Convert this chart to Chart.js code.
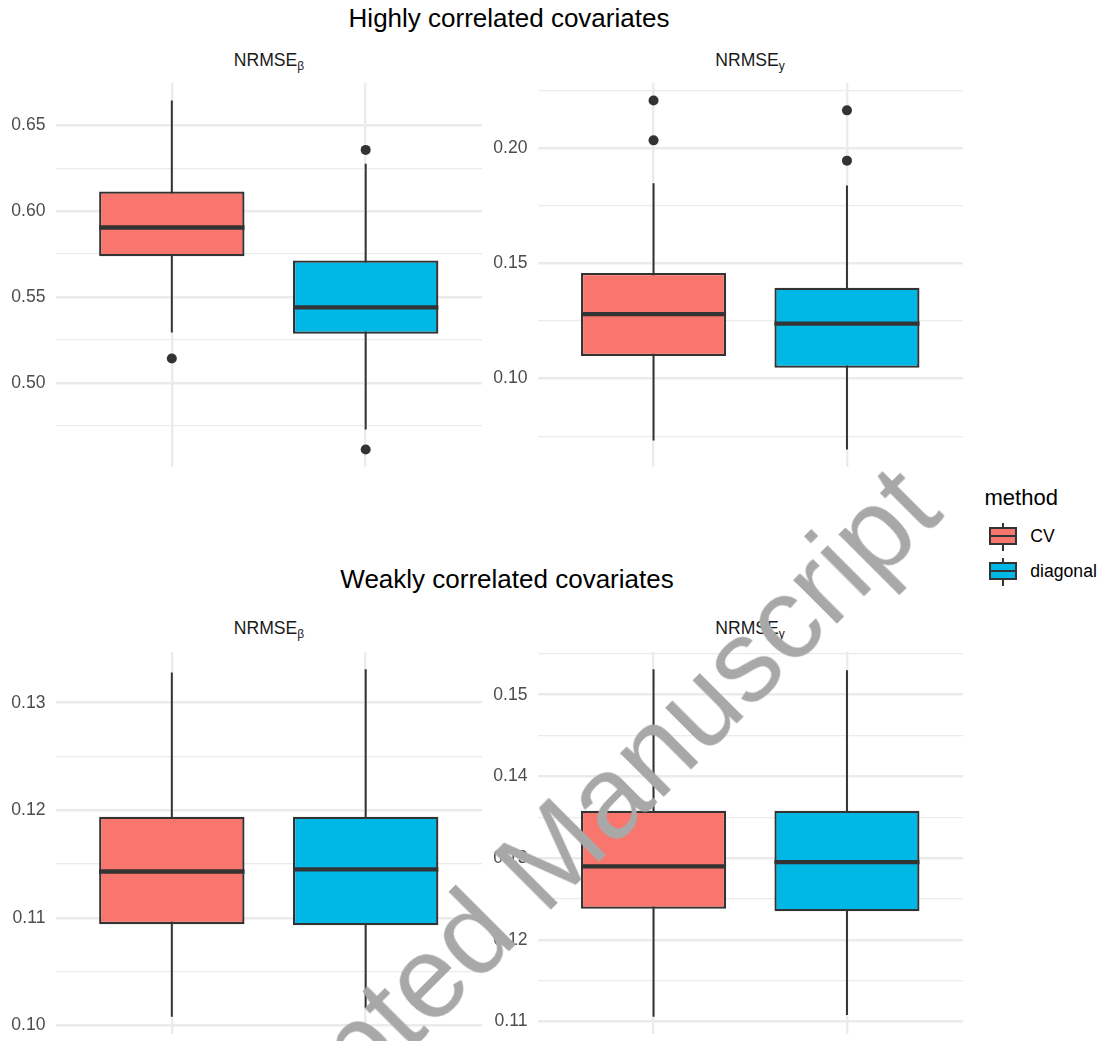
<!DOCTYPE html>
<html>
<head>
<meta charset="utf-8">
<title>NRMSE by method</title>
<script src="https://cdn.jsdelivr.net/npm/chart.js@4.4.1/dist/chart.umd.min.js"></script>
<style>
  body { margin: 0; background: #fff; font-family: "Liberation Sans", Arial, sans-serif; }
  #page { position: relative; width: 1107px; height: 1041px; overflow: hidden; background: #fff; }
  .panel { position: absolute; }
  .txt { position: absolute; white-space: nowrap; line-height: 1; }
  .title { font-size: 26px; color: #000; transform: translateX(-50%); }
  .strip { font-size: 17.6px; color: #1a1a1a; transform: translateX(-50%); }
  .strip span { font-size: 12px; position: relative; top: 4px; }
  .legtitle { font-size: 22px; color: #000; }
  .legtext { font-size: 17.6px; color: #000; }
  .key { position: absolute; width: 35px; height: 35px; }
  .key .whisk { position: absolute; left: 16.5px; top: 4px; width: 2px; height: 28px; background: #333; }
  .key .box { position: absolute; left: 3.5px; top: 8.5px; width: 28px; height: 18px; border: 2px solid #333; box-sizing: border-box; }
  .key .med { position: absolute; left: 3.5px; top: 16.5px; width: 28px; height: 2px; background: #333; }
  #stamp { position: absolute; font-size: 116px; color: #a8a8a8; white-space: nowrap; line-height: 1;
           transform: translate(-50%, -50%) rotate(-45deg); pointer-events: none; z-index: 10; }
</style>
</head>
<body>
<div id="page">
  <div class="txt title" style="left:509px; top:4.7px">Highly correlated covariates</div>
  <div class="txt title" style="left:507px; top:566.3px">Weakly correlated covariates</div>

  <div class="txt strip" style="left:269px; top:51.8px">NRMSE<span>β</span></div>
  <div class="txt strip" style="left:750px; top:51.8px">NRMSE<span>y</span></div>
  <div class="txt strip" style="left:269px; top:620.1px">NRMSE<span>β</span></div>
  <div class="txt strip" style="left:750px; top:620.1px">NRMSE<span>y</span></div>

  <canvas class="panel" id="hiBeta"></canvas>
  <canvas class="panel" id="hiY"></canvas>
  <canvas class="panel" id="loBeta"></canvas>
  <canvas class="panel" id="loY"></canvas>

  <div class="txt legtitle" style="left:984.5px; top:487.4px">method</div>
  <div id="legend"></div>

  <div id="stamp" style="left:534px; top:870px">Accepted Manuscript</div>
</div>

<script>
// box stats per method: [lower whisker, q1, median, q3, upper whisker]
const methods = ['CV', 'diagonal'];
const fills = ['#F8766D', '#00B8E5'];

// highly correlated covariates
const hiBetaCV = [0.5293, 0.5737, 0.5904, 0.6114, 0.6644];
const hiBetaDiag = [0.4728, 0.5285, 0.5439, 0.5712, 0.6276];
const hiBetaOut = [[0.5141], [0.6356, 0.4611]];
const hiBetaTicks = ['0.50', '0.55', '0.60', '0.65'];

const hiYCV = [0.0731, 0.1098, 0.1279, 0.1458, 0.1847];
const hiYDiag = [0.0692, 0.1047, 0.1238, 0.1394, 0.1837];
const hiYOut = [[0.2206, 0.2033], [0.2163, 0.1945]];
const hiYTicks = ['0.10', '0.15', '0.20'];

// weakly correlated covariates
const loBetaCV = [0.1008, 0.1094, 0.1143, 0.1194, 0.1328];
const loBetaDiag = [0.1016, 0.1093, 0.1145, 0.1194, 0.1331];
const loBetaOut = [[], []];
const loBetaTicks = ['0.10', '0.11', '0.12', '0.13'];

const loYCV = [0.1106, 0.1238, 0.1290, 0.1358, 0.1531];
const loYDiag = [0.1108, 0.1235, 0.1295, 0.1358, 0.1530];
const loYOut = [[], []];
const loYTicks = ['0.11', '0.12', '0.13', '0.14', '0.15'];

const INK = '#333333';
const GRID = '#ebebeb';
const AXIS_W = 55.5;

Chart.defaults.font.family = '"Liberation Sans", Arial, sans-serif';
Chart.defaults.font.size = 17.6;
Chart.defaults.color = '#4d4d4d';

// thick median bar across each box
const medianLines = {
    id: 'medianLines',
    afterDatasetsDraw(chart, args, opts) {
        const boxes = chart.getDatasetMeta(0);
        const y = chart.scales.y;
        const ctx = chart.ctx;
        ctx.save();
        ctx.strokeStyle = INK;
        ctx.lineWidth = 4.3;
        boxes.data.forEach((bar, i) => {
            const py = y.getPixelForValue(opts.values[i]);
            ctx.beginPath();
            ctx.moveTo(bar.x - bar.width / 2, py);
            ctx.lineTo(bar.x + bar.width / 2, py);
            ctx.stroke();
        });
        ctx.restore();
    }
};

function makePanel(id, pos, cv, diag, outliers, tickLabels) {
    const stats = [cv, diag];
    const all = cv.concat(diag, outliers[0], outliers[1]);
    const lo = Math.min(...all);
    const hi = Math.max(...all);
    const pad = (hi - lo) * 0.05;
    const yMin = lo - pad;
    const yMax = hi + pad;

    const majors = tickLabels.map(Number);
    const step = majors[1] - majors[0];
    let gridVals = majors.slice();
    // minor lines halfway between the labelled breaks
    for (let k = -1; k < majors.length; k++) {
        const v = majors[0] + (k + 0.5) * step;
        if (v >= yMin && v <= yMax) gridVals.push(v);
    }
    gridVals.sort((a, b) => a - b);
    const isMajor = v => majors.some(m => Math.abs(m - v) < 1e-9);

    const canvas = document.getElementById(id);
    canvas.width = pos.w;
    canvas.height = pos.h;
    canvas.style.left = pos.left + 'px';
    canvas.style.top = pos.top + 'px';
    canvas.style.width = pos.w + 'px';
    canvas.style.height = pos.h + 'px';

    const datasets = [{
        type: 'bar',
        data: stats.map((s, i) => ({ x: i + 1, y: [s[1], s[3]] })),
        backgroundColor: fills,
        borderColor: INK,
        borderWidth: 2.3,
        borderSkipped: false,
        barPercentage: 0.75,
        categoryPercentage: 1,
        order: 1
    }];
    stats.forEach((s, i) => {
        datasets.push({
            type: 'line',
            data: [{ x: i + 1, y: s[0] }, { x: i + 1, y: s[4] }],
            borderColor: INK,
            borderWidth: 2,
            pointRadius: 0,
            order: 2
        });
    });
    const outPts = [];
    outliers.forEach((list, i) => list.forEach(v => outPts.push({ x: i + 1, y: v })));
    datasets.push({
        type: 'scatter',
        data: outPts,
        backgroundColor: INK,
        borderWidth: 0,
        pointRadius: 5,
        order: 0
    });

    return new Chart(canvas, {
        type: 'bar',
        data: { datasets: datasets },
        plugins: [medianLines],
        options: {
            responsive: false,
            animation: false,
            layout: { padding: { top: 8, bottom: 8, right: 8, left: 0 } },
            plugins: {
                legend: { display: false },
                tooltip: { enabled: false },
                medianLines: { values: stats.map(s => s[2]) }
            },
            scales: {
                x: {
                    type: 'linear',
                    min: 0.4,
                    max: 2.6,
                    offset: false,
                    ticks: { display: false },
                    grid: { color: GRID, lineWidth: 2.4, drawTicks: false, offset: false },
                    border: { display: false },
                    afterBuildTicks: s => { s.ticks = [{ value: 1 }, { value: 2 }]; },
                    afterFit: s => { s.height = 0; s.paddingLeft = 0; s.paddingRight = 0; }
                },
                y: {
                    type: 'linear',
                    min: yMin,
                    max: yMax,
                    ticks: {
                        padding: 10,
                        autoSkip: false,
                        callback: v => {
                            const k = majors.findIndex(m => Math.abs(m - v) < 1e-9);
                            return k >= 0 ? tickLabels[k] : '';
                        }
                    },
                    grid: {
                        color: GRID,
                        lineWidth: ctx => (ctx.tick && isMajor(ctx.tick.value)) ? 2.4 : 1.2,
                        drawTicks: false
                    },
                    border: { display: false },
                    afterBuildTicks: s => { s.ticks = gridVals.map(v => ({ value: v })); },
                    afterFit: s => { s.width = AXIS_W; s.paddingTop = 0; s.paddingBottom = 0; }
                }
            }
        }
    });
}

makePanel('hiBeta', { left: 0, top: 75, w: 490, h: 400 }, hiBetaCV, hiBetaDiag, hiBetaOut, hiBetaTicks);
makePanel('hiY', { left: 482, top: 75, w: 489, h: 400 }, hiYCV, hiYDiag, hiYOut, hiYTicks);
makePanel('loBeta', { left: 0, top: 644, w: 490, h: 398 }, loBetaCV, loBetaDiag, loBetaOut, loBetaTicks);
makePanel('loY', { left: 482, top: 644, w: 489, h: 398 }, loYCV, loYDiag, loYOut, loYTicks);

// legend keys drawn as little boxplot glyphs
const legend = document.getElementById('legend');
const keyCentres = [536, 571];
methods.forEach((m, i) => {
    const key = document.createElement('div');
    key.className = 'key';
    key.style.left = '985px';
    key.style.top = (keyCentres[i] - 17.5) + 'px';
    key.innerHTML = '<div class="whisk"></div><div class="box" style="background:' + fills[i] + '"></div><div class="med"></div>';
    legend.appendChild(key);

    const label = document.createElement('div');
    label.className = 'txt legtext';
    label.style.left = '1030.3px';
    label.style.top = (keyCentres[i] + 7 - 14.9) + 'px';
    label.textContent = m;
    legend.appendChild(label);
});
</script>
</body>
</html>
